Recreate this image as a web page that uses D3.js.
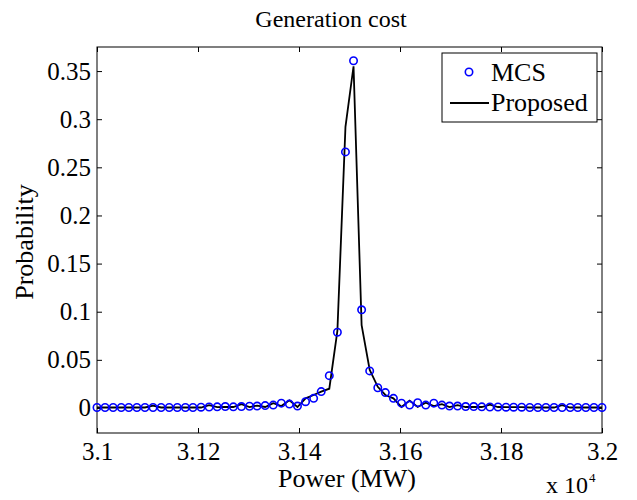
<!DOCTYPE html>
<html>
<head>
<meta charset="utf-8">
<script src="https://cdn.jsdelivr.net/npm/d3@7"></script>
</head>
<body style="margin:0">
<script>
// power grid (MW)
const power = [
  31000, 31016, 31032, 31048, 31063, 31079, 31095, 31111, 31127, 31143,
  31159, 31175, 31190, 31206, 31222, 31238, 31254, 31270, 31286, 31302,
  31317, 31333, 31349, 31365, 31381, 31397, 31413, 31429, 31444, 31460,
  31476, 31492, 31508, 31524, 31540, 31556, 31571, 31587, 31603, 31619,
  31635, 31651, 31667, 31683, 31698, 31714, 31730, 31746, 31762, 31778,
  31794, 31810, 31825, 31841, 31857, 31873, 31889, 31905, 31921, 31937,
  31952, 31968, 31984, 32000
];

// Monte Carlo simulation probabilities
const mcs = [
  0.0005, 0.0005, 0.0005, 0.0005, 0.0005, 0.0005, 0.0005, 0.0005, 0.0005, 0.0005,
  0.0005, 0.0005, 0.0005, 0.0008, 0.0010, 0.0012, 0.0015, 0.0012, 0.0015, 0.0018,
  0.0020, 0.0025, 0.0030, 0.0050, 0.0040, 0.0020, 0.0065, 0.0100, 0.0170, 0.0336,
  0.0787, 0.2660, 0.3607, 0.1020, 0.0385, 0.0210, 0.0160, 0.0100, 0.0050, 0.0030,
  0.0055, 0.0030, 0.0050, 0.0030, 0.0020, 0.0020, 0.0015, 0.0015, 0.0012, 0.0010,
  0.0010, 0.0008, 0.0008, 0.0008, 0.0005, 0.0005, 0.0005, 0.0005, 0.0005, 0.0005,
  0.0005, 0.0005, 0.0005, 0.0005
];

// proposed method probabilities
const proposed = [
  0.0005, 0.0005, 0.0005, 0.0005, 0.0005, 0.0005, 0.0005, 0.0025, 0.0005, 0.0005,
  0.0005, 0.0005, 0.0005, 0.0005, 0.0030, 0.0008, 0.0010, 0.0010, 0.0040, 0.0010,
  0.0025, 0.0010, 0.0050, 0.0020, 0.0080, 0.0010, 0.0100, 0.0135, 0.0170, 0.0200,
  0.0800, 0.2920, 0.3550, 0.0860, 0.0395, 0.0220, 0.0135, 0.0100, 0.0010, 0.0076,
  0.0010, 0.0055, 0.0020, 0.0040, 0.0010, 0.0030, 0.0010, 0.0010, 0.0010, 0.0035,
  0.0010, 0.0008, 0.0008, 0.0008, 0.0005, 0.0005, 0.0005, 0.0005, 0.0030, 0.0005,
  0.0005, 0.0005, 0.0005, 0.0005
];

const xTicks = [31000, 31200, 31400, 31600, 31800, 32000];
const yTicks = [0, 0.05, 0.1, 0.15, 0.2, 0.25, 0.3, 0.35];
const legendLabels = ["MCS", "Proposed"];

const W = 637, H = 500;
const plotL = 97, plotT = 47, plotR = 602, plotB = 433;

const svg = d3.select("body").append("svg")
  .attr("width", W).attr("height", H)
  .style("font-family", '"Liberation Serif"');

const x = d3.scaleLinear().domain([31000, 32000]).range([plotL, plotR]);
const y = d3.scaleLinear().domain([-0.026, 0.375]).range([plotB, plotT]);

// MATLAB-like look: no domain path, black ticks, serif labels
const styleAxis = g => {
  g.select(".domain").remove();
  g.attr("font-family", null).attr("font-size", null);
  g.selectAll("line").attr("stroke", "#000");
  g.selectAll("text")
    .style("font-family", '"Liberation Serif"')
    .attr("font-size", 25)
    .attr("fill", "#000");
};

// axes, ticks pointing inward
svg.append("g")
  .attr("transform", `translate(0,${plotB})`)
  .call(d3.axisBottom(x).tickValues(xTicks).tickSize(-5).tickPadding(9)
    .tickFormat(d => d3.format("~g")(d / 1e4)))
  .call(styleAxis);
svg.append("g")
  .attr("transform", `translate(0,${plotT})`)
  .call(d3.axisTop(x).tickValues(xTicks).tickSize(-5).tickFormat(""))
  .call(styleAxis);
svg.append("g")
  .attr("transform", `translate(${plotL},0)`)
  .call(d3.axisLeft(y).tickValues(yTicks).tickSize(-5).tickPadding(6)
    .tickFormat(d => d3.format("~g")(d)))
  .call(styleAxis);
svg.append("g")
  .attr("transform", `translate(${plotR},0)`)
  .call(d3.axisRight(y).tickValues(yTicks).tickSize(-5).tickFormat(""))
  .call(styleAxis);

svg.append("rect")
  .attr("x", plotL).attr("y", plotT)
  .attr("width", plotR - plotL).attr("height", plotB - plotT)
  .attr("fill", "none").attr("stroke", "#000").attr("stroke-width", 1);

// proposed line
const line = d3.line().x((d, i) => x(power[i])).y(d => y(d));
svg.append("path")
  .datum(proposed)
  .attr("d", line)
  .attr("fill", "none")
  .attr("stroke", "#000")
  .attr("stroke-width", 1.8);

// MCS markers
svg.append("g").selectAll("circle")
  .data(mcs)
  .join("circle")
  .attr("cx", (d, i) => x(power[i]))
  .attr("cy", d => y(d))
  .attr("r", 3.7)
  .attr("fill", "none")
  .attr("stroke", "#0000ff")
  .attr("stroke-width", 1.6);

// title and labels
const txt = (px, py, size, s) => svg.append("text")
  .attr("x", px).attr("y", py)
  .style("font-family", '"Liberation Serif"')
  .attr("font-size", size)
  .text(s);

txt(331, 27, 24, "Generation cost").attr("text-anchor", "middle");
txt(347, 487, 26, "Power (MW)").attr("text-anchor", "middle");
txt(0, 0, 26, "Probability")
  .attr("text-anchor", "middle")
  .attr("transform", "translate(33,242) rotate(-90)");

txt(546, 493, 24, "x 10");
txt(589, 482, 13, "4");

// legend
const lg = svg.append("g");
lg.append("rect")
  .attr("x", 442).attr("y", 53)
  .attr("width", 155).attr("height", 69)
  .attr("fill", "#fff").attr("stroke", "#000").attr("stroke-width", 1);
lg.append("circle")
  .attr("cx", 469).attr("cy", 72).attr("r", 3.7)
  .attr("fill", "none").attr("stroke", "#0000ff").attr("stroke-width", 1.6);
lg.append("line")
  .attr("x1", 450).attr("x2", 489).attr("y1", 103).attr("y2", 103)
  .attr("stroke", "#000").attr("stroke-width", 1.8);
lg.selectAll("text.lbl")
  .data(legendLabels)
  .join("text")
  .attr("class", "lbl")
  .attr("x", 491)
  .attr("y", (d, i) => 81 + i * 30)
  .style("font-family", '"Liberation Serif"')
  .attr("font-size", 26)
  .text(d => d);
</script>
</body>
</html>
